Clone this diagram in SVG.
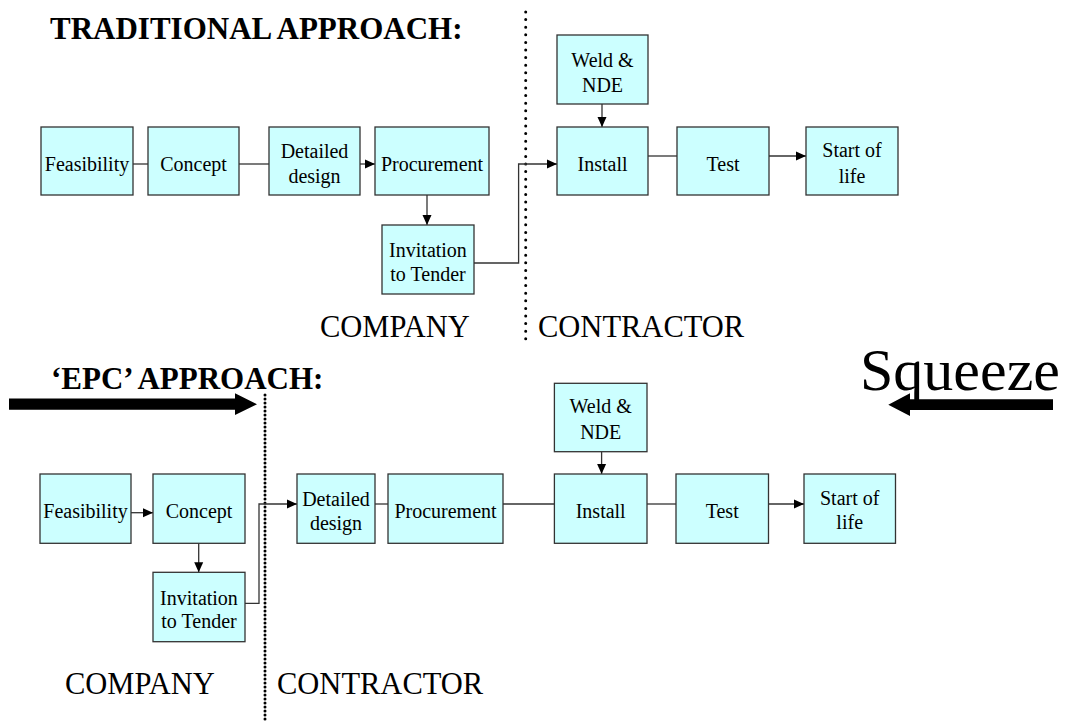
<svg xmlns="http://www.w3.org/2000/svg" width="1069" height="722" viewBox="0 0 1069 722">
<style>
.box{fill:#ccffff;stroke:#333;stroke-width:1.3}
.t{font-family:'Liberation Serif',Tinos,Times,'DejaVu Serif',serif;font-size:20px;font-weight:normal;fill:#000;text-anchor:middle}
.lbl{font-family:'Liberation Serif',Tinos,Times,'DejaVu Serif',serif;font-size:30.5px;font-weight:normal;fill:#000}
.sq{font-family:'Liberation Serif',Tinos,Times,'DejaVu Serif',serif;font-size:60px;font-weight:normal;fill:#000}
.title{font-family:'Liberation Serif',Tinos,Times,'DejaVu Serif',serif;font-size:31px;font-weight:bold;fill:#000}
.c{fill:none;stroke:#333;stroke-width:1.3}
.ca{fill:none;stroke:#333;stroke-width:1.3;marker-end:url(#ah)}
</style>
<defs>
<marker id="ah" markerUnits="userSpaceOnUse" markerWidth="10" markerHeight="10" viewBox="0 0 10 10" refX="10" refY="5" orient="auto">
<path d="M0,0.5 L10,5 L0,9.5 Z" fill="#000"/>
</marker>
</defs>
<rect width="1069" height="722" fill="#fff"/>

<text class="title" x="50" y="39">TRADITIONAL APPROACH:</text>
<text class="title" x="51" y="389">‘EPC’ APPROACH:</text>
<text class="sq" x="860" y="390">Squeeze</text>
<text class="lbl" x="320" y="337">COMPANY</text>
<text class="lbl" x="538" y="337">CONTRACTOR</text>
<text class="lbl" x="65" y="694">COMPANY</text>
<text class="lbl" x="277" y="694">CONTRACTOR</text>

<g id="dividers">
<line x1="525.7" y1="12" x2="525.7" y2="340" stroke="#000" stroke-width="3" stroke-linecap="round" stroke-dasharray="0 7.6"/>
<line x1="265" y1="395" x2="265" y2="720" stroke="#000" stroke-width="3" stroke-linecap="round" stroke-dasharray="0 4"/>
</g>

<g id="squeeze-arrows" fill="#000">
<path d="M9,398.5 L235,398.5 L235,393.3 L257,404.2 L235,415 L235,409.8 L9,409.8 Z"/>
<path d="M1053,399.3 L910,399.3 L910,393.3 L888.3,404.7 L910,416 L910,410 L1053,410 Z"/>
</g>

<g id="connectors">
<line class="c" x1="133" y1="164" x2="148" y2="164"/>
<line class="c" x1="239" y1="164" x2="269" y2="164"/>
<line class="ca" x1="360" y1="164" x2="375" y2="164"/>
<line class="ca" x1="427" y1="195" x2="427" y2="225"/>
<polyline class="ca" points="474,263 518.6,263 518.6,164 557,164"/>
<line class="ca" x1="602" y1="104" x2="602" y2="127"/>
<line class="c" x1="648" y1="156" x2="677" y2="156"/>
<line class="ca" x1="769" y1="156" x2="806" y2="156"/>

<line class="ca" x1="131" y1="512.7" x2="153" y2="512.7"/>
<line class="ca" x1="198.7" y1="543.3" x2="198.7" y2="572.3"/>
<polyline class="ca" points="245,603.3 259,603.3 259,504 297,504"/>
<line class="c" x1="375" y1="504" x2="388" y2="504"/>
<line class="c" x1="503" y1="504" x2="554.4" y2="504"/>
<line class="ca" x1="601.6" y1="451.7" x2="601.6" y2="474"/>
<line class="c" x1="647" y1="504" x2="676" y2="504"/>
<line class="ca" x1="768.5" y1="504" x2="804" y2="504"/>
</g>

<g id="t-feasibility"><rect class="box" x="41" y="127" width="92" height="68"/><text class="t" x="87" y="171">Feasibility</text></g>
<g id="t-concept"><rect class="box" x="148" y="127" width="91" height="68"/><text class="t" x="193.5" y="171">Concept</text></g>
<g id="t-detailed"><rect class="box" x="269" y="127" width="91" height="68"/><text class="t" x="314.5" y="158">Detailed</text><text class="t" x="314.5" y="183">design</text></g>
<g id="t-procurement"><rect class="box" x="375" y="127" width="114" height="68"/><text class="t" x="432" y="171">Procurement</text></g>
<g id="t-itt"><rect class="box" x="382" y="225" width="92" height="69"/><text class="t" x="428" y="257">Invitation</text><text class="t" x="428" y="281">to Tender</text></g>
<g id="t-weld"><rect class="box" x="557" y="35" width="91" height="69"/><text class="t" x="602.5" y="67">Weld &amp;</text><text class="t" x="602.5" y="92">NDE</text></g>
<g id="t-install"><rect class="box" x="557" y="127" width="91" height="68"/><text class="t" x="602.5" y="171">Install</text></g>
<g id="t-test"><rect class="box" x="677" y="127" width="92" height="68"/><text class="t" x="723" y="171">Test</text></g>
<g id="t-start"><rect class="box" x="806" y="127" width="92" height="68"/><text class="t" x="852" y="157">Start of</text><text class="t" x="852" y="183">life</text></g>

<g id="e-feasibility"><rect class="box" x="40" y="474" width="91" height="69.3"/><text class="t" x="85.5" y="518.3">Feasibility</text></g>
<g id="e-concept"><rect class="box" x="153" y="474" width="92" height="69.3"/><text class="t" x="199" y="518.3">Concept</text></g>
<g id="e-itt"><rect class="box" x="153" y="572.3" width="92" height="69.4"/><text class="t" x="199" y="605">Invitation</text><text class="t" x="199" y="628">to Tender</text></g>
<g id="e-detailed"><rect class="box" x="297" y="474" width="78" height="69.3"/><text class="t" x="336" y="505.7">Detailed</text><text class="t" x="336" y="530">design</text></g>
<g id="e-procurement"><rect class="box" x="388" y="474" width="115" height="69.3"/><text class="t" x="445.5" y="518.3">Procurement</text></g>
<g id="e-weld"><rect class="box" x="554.4" y="383.3" width="92.6" height="68.4"/><text class="t" x="600.7" y="413">Weld &amp;</text><text class="t" x="600.7" y="439">NDE</text></g>
<g id="e-install"><rect class="box" x="554.4" y="474" width="92.6" height="69.3"/><text class="t" x="600.7" y="518.3">Install</text></g>
<g id="e-test"><rect class="box" x="676" y="474" width="92.5" height="69.3"/><text class="t" x="722.2" y="518.3">Test</text></g>
<g id="e-start"><rect class="box" x="804" y="474" width="91.5" height="69.3"/><text class="t" x="849.7" y="505">Start of</text><text class="t" x="849.7" y="529">life</text></g>
</svg>
